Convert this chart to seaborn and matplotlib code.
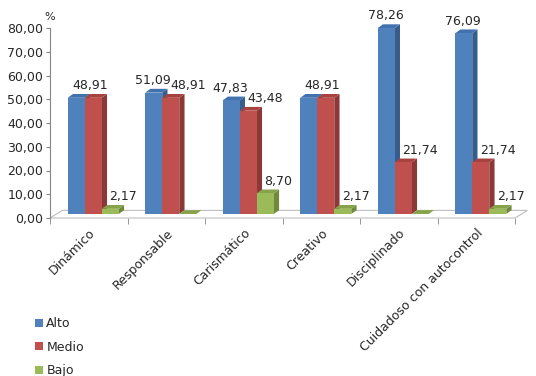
import numpy as np
import pandas as pd
import matplotlib
matplotlib.use("Agg")
import matplotlib.pyplot as plt
from matplotlib.patches import Polygon, Patch
import seaborn as sns

# datos del grafico
categorias = ["Dinámico", "Responsable", "Carismático", "Creativo",
              "Disciplinado", "Cuidadoso con autocontrol"]
niveles = ["Alto", "Medio", "Bajo"]
alto = [48.91, 51.09, 47.83, 48.91, 78.26, 76.09]
medio = [48.91, 48.91, 43.48, 48.91, 21.74, 21.74]
bajo = [2.17, 0.00, 8.70, 2.17, 0.00, 2.17]
yticks = [0, 10, 20, 30, 40, 50, 60, 70, 80]

# colores tipo Excel 2007 (frente, lateral, tapa)
frente = ["#4F81BD", "#C0504D", "#9BBB59"]
lateral = ["#385D8A", "#8C3836", "#71893F"]
tapa = ["#4272AE", "#A8423F", "#86A34A"]

df = pd.DataFrame({
    "Categoria": np.repeat(categorias, 3),
    "Nivel": niveles * len(categorias),
    "Valor": np.column_stack([alto, medio, bajo]).ravel(),
})

sns.set_style("white")
plt.rcParams['font.family'] = ['DejaVu Sans']

fig = plt.figure(figsize=(5.36, 3.76), dpi=100)
ax = fig.add_axes([50 / 536, (376 - 218) / 376, 465 / 536, 190 / 376])

sns.barplot(data=df, x="Categoria", y="Valor", hue="Nivel", order=categorias,
            hue_order=niveles, palette=frente, saturation=1, width=0.66,
            linewidth=0, legend=False, ax=ax)

ax.set_xlim(-0.5, 5.5)
ax.set_ylim(0, 80)

# efecto 3D
shift, base, dx, dy = 0.058, 1.7, 0.068, 1.6
for k, cont in enumerate(ax.containers):
    for p in cont.patches:
        x, w, h = p.get_x() + shift, p.get_width(), p.get_height()
        p.set_x(x)
        p.set_y(base)
        p.set_clip_on(False)
        p.set_zorder(2 + k * 0.1 + 0.05)
        top = base + h
        side = Polygon([(x + w, base), (x + w + dx, base + dy),
                        (x + w + dx, top + dy), (x + w, top)],
                       closed=True, facecolor=lateral[k], edgecolor="none",
                       zorder=2 + k * 0.1, clip_on=False)
        lid = Polygon([(x, top), (x + w, top), (x + w + dx, top + dy),
                       (x + dx, top + dy)],
                      closed=True, facecolor=tapa[k], edgecolor="none",
                      zorder=2 + k * 0.1, clip_on=False)
        ax.add_patch(side)
        ax.add_patch(lid)

# etiquetas de datos
valores = [alto, medio, bajo]
for k, cont in enumerate(ax.containers):
    for i, p in enumerate(cont.patches):
        v = valores[k][i]
        if v == 0:
            continue
        off = [-0.01, 0.22, 0.17][k]
        if k == 0 and alto[i] == medio[i]:
            off = 0.18
        if k == 1 and alto[i] == medio[i]:
            continue
        ax.text(p.get_x() + p.get_width() / 2 + off, base + v + dy + 0.8,
                f"{v:.2f}".replace(".", ","), ha="center", va="bottom",
                fontsize=9, zorder=10, clip_on=False)

# piso
fdx, fdy = 0.16, 3.2
piso = Polygon([(-0.5, 0), (5.5, 0), (5.5 + fdx, fdy), (-0.5 + fdx, fdy)],
               closed=True, facecolor="white", edgecolor="#BFBFBF",
               linewidth=0.8, zorder=1, clip_on=False)
ax.add_patch(piso)

for s in ["top", "right", "bottom"]:
    ax.spines[s].set_visible(False)
ax.spines["left"].set_color("#868686")
ax.spines["left"].set_linewidth(0.8)

ax.set_yticks(yticks, [f"{t:.2f}".replace(".", ",") for t in yticks])
ax.tick_params(axis="y", length=3, color="#868686", labelsize=9, pad=2, left=True)
ax.set_xticks(range(len(categorias)), categorias)
ax.set_xticks(np.arange(-0.5, 6, 1), minor=True)
ax.tick_params(axis="x", which="major", length=0, labelsize=9, pad=6)
ax.tick_params(axis="x", which="minor", length=4, color="#868686", bottom=True)
for lab in ax.get_xticklabels():
    lab.set_rotation(45)
    lab.set_ha("right")
    lab.set_rotation_mode("anchor")
ax.set_xlabel("")
ax.set_ylabel("")

fig.text(50 / 536, 1 - 17 / 376, "%", ha="center", va="center", fontsize=8)

handles = [Patch(facecolor=c, edgecolor="none") for c in frente]
fig.legend(handles, niveles, loc="upper left", bbox_to_anchor=(30 / 536, 1 - 312 / 376),
           frameon=False, fontsize=9, handlelength=0.6, handleheight=0.6,
           handletextpad=0.3, labelspacing=0.85, borderaxespad=0)

fig.savefig("out.png", dpi=100)
